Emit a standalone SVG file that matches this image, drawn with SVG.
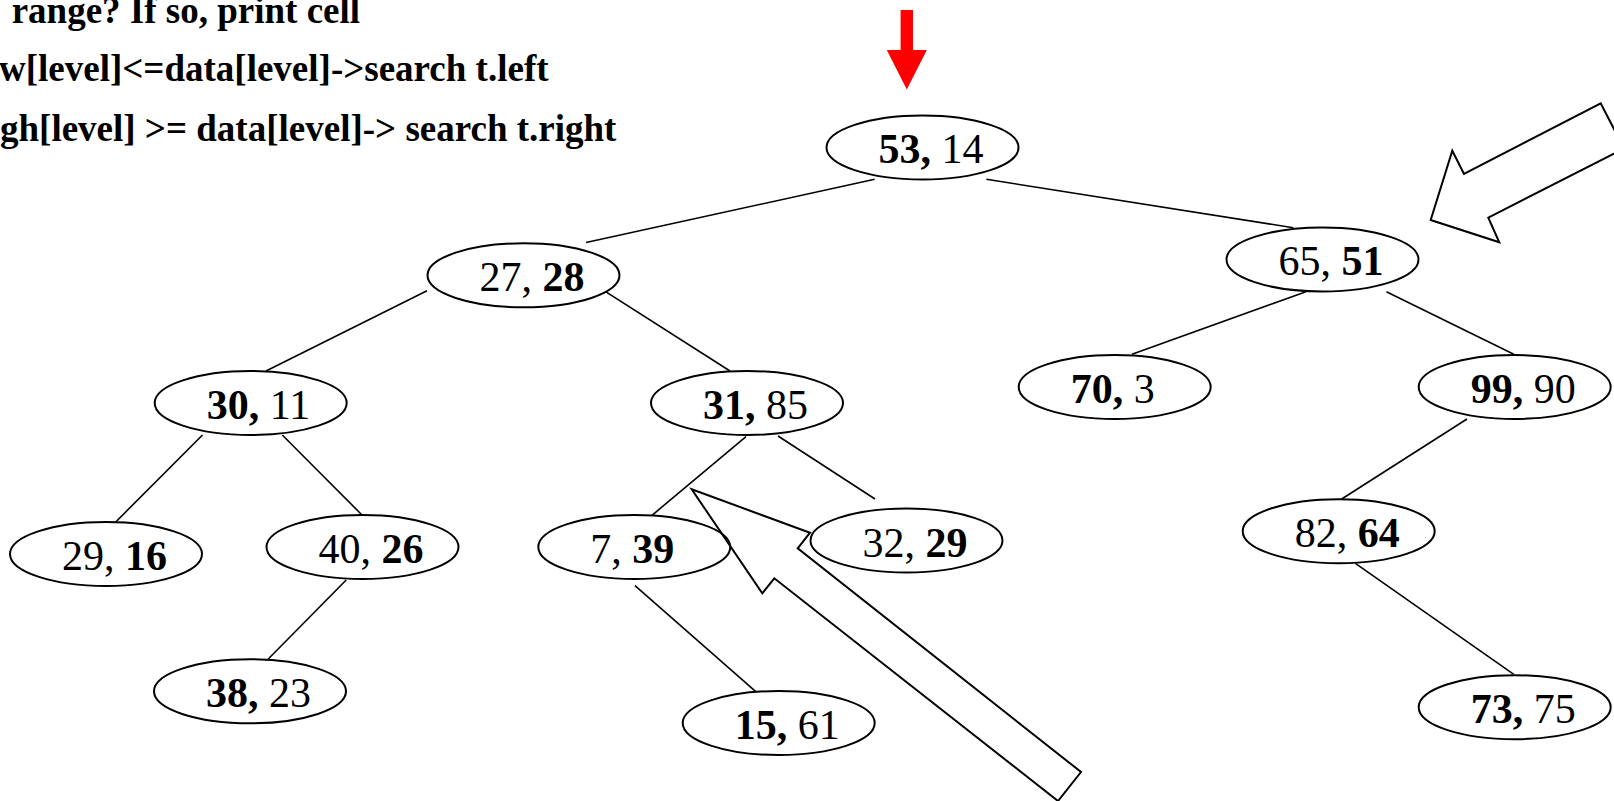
<svg xmlns="http://www.w3.org/2000/svg" width="1614" height="801" viewBox="0 0 1614 801">
<style>
.bg{fill:#ffffff}
.node ellipse{fill:#ffffff;stroke:#000000;stroke-width:2}
.node text{font-family:"Liberation Serif","Times New Roman",serif;font-size:42px;fill:#000000}
.b{font-weight:bold}
.edge line{stroke:#000000;stroke-width:1.6}
.hollow{fill:none;stroke:#000000;stroke-width:2;stroke-linejoin:miter}
.red{fill:#ff0000;stroke:none}
.cap{font-family:"Liberation Serif","Times New Roman",serif;font-size:37px;font-weight:bold;fill:#000000}
</style>
<rect class="bg" x="0" y="0" width="1614" height="801"/>

<g id="caption">
<text class="cap" x="11.7" y="23">range? If so, print cell</text>
<text class="cap" x="-1" y="81">w[level]&lt;=data[level]-&gt;search t.left</text>
<text class="cap" x="0" y="141">gh[level] &gt;= data[level]-&gt; search t.right</text>
</g>

<g id="connectors" class="edge">
<line x1="874.7" y1="179.3" x2="586" y2="242.5"/>
<line x1="986.4" y1="179.3" x2="1293.3" y2="227.7"/>
<line x1="427" y1="290.7" x2="266" y2="371"/>
<line x1="604" y1="290.7" x2="730" y2="371"/>
<line x1="1306" y1="291.7" x2="1132" y2="354.3"/>
<line x1="1386.4" y1="291.7" x2="1513.8" y2="354.3"/>
<line x1="202.5" y1="435" x2="106" y2="531.7"/>
<line x1="282.3" y1="435" x2="362" y2="515"/>
<line x1="346.2" y1="580" x2="268" y2="659.3"/>
<line x1="746" y1="436.7" x2="652" y2="515.3"/>
<line x1="778" y1="436" x2="875" y2="499"/>
<line x1="635" y1="585.7" x2="763.5" y2="698.3"/>
<line x1="1467" y1="419" x2="1341.7" y2="499"/>
<line x1="1355.4" y1="563.3" x2="1513.8" y2="674.3"/>
</g>

<g id="n53_14" class="node"><ellipse cx="922.5" cy="147.5" rx="96" ry="32"/><text x="878.5" y="163"><tspan class="b">53,</tspan> 14</text></g>
<g id="n27_28" class="node"><ellipse cx="523.5" cy="275.3" rx="96" ry="32"/><text x="479.5" y="291">27, <tspan class="b">28</tspan></text></g>
<g id="n65_51" class="node"><ellipse cx="1322.5" cy="259.5" rx="96" ry="32"/><text x="1278.5" y="275">65, <tspan class="b">51</tspan></text></g>
<g id="n30_11" class="node"><ellipse cx="250.7" cy="403" rx="96" ry="32"/><text x="206.7" y="418.5"><tspan class="b">30,</tspan> 11</text></g>
<g id="n31_85" class="node"><ellipse cx="747" cy="403" rx="96" ry="32"/><text x="703" y="418.5"><tspan class="b">31,</tspan> 85</text></g>
<g id="n70_3" class="node"><ellipse cx="1114.7" cy="387" rx="96" ry="32"/><text x="1070.7" y="402.5"><tspan class="b">70,</tspan> 3</text></g>
<g id="n99_90" class="node"><ellipse cx="1514.7" cy="387" rx="96" ry="32"/><text x="1470.7" y="402.5"><tspan class="b">99,</tspan> 90</text></g>
<g id="n29_16" class="node"><ellipse cx="106" cy="554" rx="96" ry="32"/><text x="62" y="570">29, <tspan class="b">16</tspan></text></g>
<g id="n40_26" class="node"><ellipse cx="362.5" cy="547" rx="96" ry="32"/><text x="318.5" y="563">40, <tspan class="b">26</tspan></text></g>
<g id="n7_39" class="node"><ellipse cx="634.3" cy="547" rx="96" ry="32"/><text x="590.3" y="563">7, <tspan class="b">39</tspan></text></g>
<g id="n32_29" class="node"><ellipse cx="906.5" cy="540.5" rx="96" ry="32"/><text x="862.5" y="556.5">32, <tspan class="b">29</tspan></text></g>
<g id="n82_64" class="node"><ellipse cx="1338.7" cy="531.2" rx="96" ry="32"/><text x="1294.7" y="547">82, <tspan class="b">64</tspan></text></g>
<g id="n38_23" class="node"><ellipse cx="250" cy="691.3" rx="96" ry="32"/><text x="206" y="707"><tspan class="b">38,</tspan> 23</text></g>
<g id="n15_61" class="node"><ellipse cx="778.7" cy="723" rx="96" ry="32"/><text x="734.7" y="739"><tspan class="b">15,</tspan> 61</text></g>
<g id="n73_75" class="node"><ellipse cx="1514.7" cy="707.2" rx="96" ry="32"/><text x="1470.7" y="723"><tspan class="b">73,</tspan> 75</text></g>

<g id="pointers">
<polygon id="start-arrow" class="red" points="900.6,10 913,10 913,50 926.8,50 906.8,89.5 886.8,50 900.6,50"/>
<polygon id="arrow-right" class="hollow" points="1430.7,220 1452.3,150.7 1464,174 1600.7,103.3 1624,148.4 1488.3,217.7 1499.3,242.3"/>
<polygon id="arrow-middle" class="hollow" points="691.7,489.3 810,532.7 797.7,548.3 1081,772 1058,801 774.3,578.3 762.3,593.3"/>
</g>
</svg>
